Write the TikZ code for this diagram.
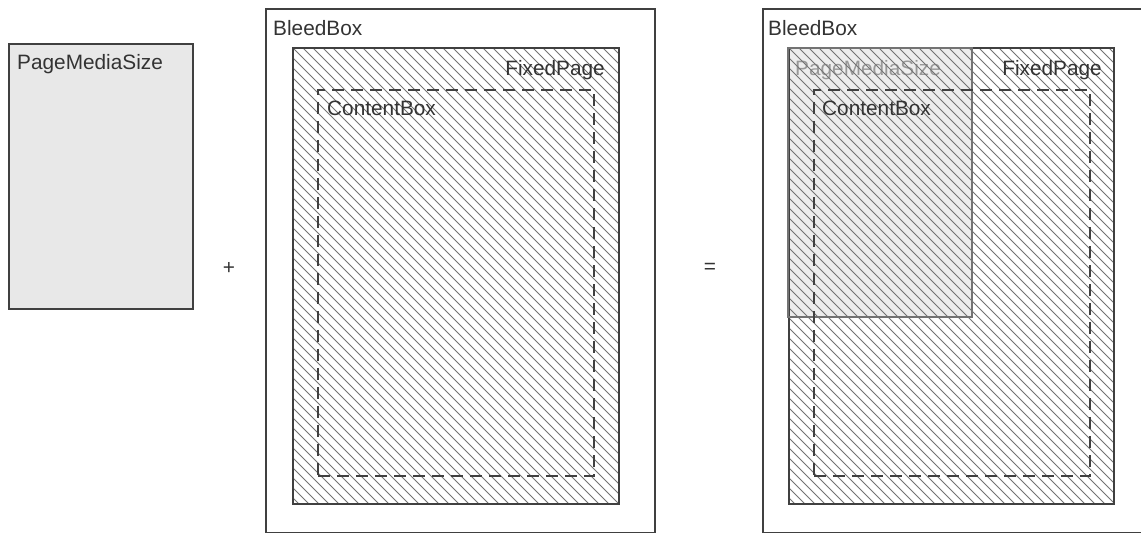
\documentclass[tikz,border=0pt]{standalone}
\usepackage{fontspec}
\setmainfont{Liberation Sans}

\begin{document}
\begin{tikzpicture}[x=1pt, y=-1pt, font=\fontsize{20.8}{24}\selectfont,
   every node/.style={text=black!80},
   box/.style={draw=black!75, line width=1.8pt, anchor=north west, inner sep=0pt},
   dashbox/.style={box, line width=1.7pt, dash pattern=on 12pt off 7pt},
   hatchline/.style={black!55, line width=1pt},
   label/.style={inner sep=0pt}]
   \definecolor{mediagray}{rgb}{0.91, 0.91, 0.91}
   \useasboundingbox (0,0) rectangle (1141,533);

   % page media on its own
   \node [box, fill=mediagray, minimum width=184pt, minimum height=265pt] (media) at (8,43) {};
   \node [label, anchor=base west] (medialabel) at (17,69) {PageMediaSize};

   \node (plus) at (229,268) {+};

   % fixed page with bleed and content boxes
   \node [box, minimum width=389pt, minimum height=524pt] (bleed) at (265,8) {};
   \node [box, draw=none, minimum width=324pt, minimum height=454pt] (fixed) at (293,48) {};
   \begin{scope}
      \clip (fixed.north west) rectangle (fixed.south east);
      \foreach \k in {0,...,80}
         \draw [hatchline, shift={(fixed.north west)}] (\k*10-470,0) -- ++(480,480);
   \end{scope}
   \draw [box] (fixed.north west) rectangle (fixed.south east);
   \node [dashbox, minimum width=276pt, minimum height=386pt] (content) at (317,89) {};
   \node [label, anchor=base west] (bleedlabel) at (273,35) {BleedBox};
   \node [label, anchor=base east] (fixedlabel) at (605,75) {FixedPage};
   \node [label, anchor=base west] (contentlabel) at (327,115) {ContentBox};

   \node (equals) at (710,268) {=};

   % result: media laid over the fixed page
   \node [box, minimum width=380pt, minimum height=524pt] (bleedb) at (762,8) {};
   \node [box, draw=none, minimum width=323pt, minimum height=454pt] (fixedb) at (789,48) {};
   \node [box, draw=none, fill=mediagray!80, minimum width=182pt, minimum height=267pt] (mediab) at (788,48) {};
   \node [label, text=black!40, anchor=base west] (medialabelb) at (795,75) {PageMediaSize};
   \begin{scope}
      \clip (fixedb.north west) rectangle (fixedb.south east);
      \foreach \k in {0,...,80}
         \draw [hatchline, shift={(fixedb.north west)}] (\k*10-470,0) -- ++(480,480);
   \end{scope}
   \draw [box] (fixedb.north west) rectangle (fixedb.south east);
   \draw [box, draw=black!55, line width=1.4pt] (mediab.north west) rectangle (mediab.south east);
   \node [dashbox, minimum width=276pt, minimum height=386pt] (contentb) at (813,89) {};
   \node [label, anchor=base west] (bleedlabelb) at (768,35) {BleedBox};
   \node [label, anchor=base east] (fixedlabelb) at (1102,75) {FixedPage};
   \node [label, anchor=base west] (contentlabelb) at (822,115) {ContentBox};
\end{tikzpicture}
\end{document}
